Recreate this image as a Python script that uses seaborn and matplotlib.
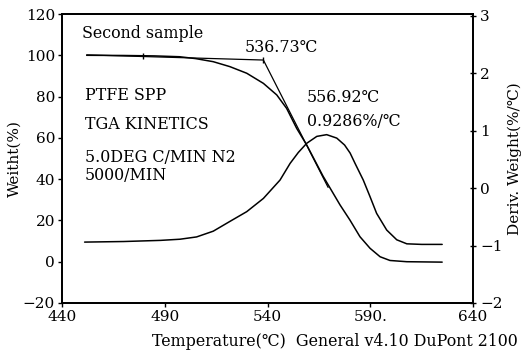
import matplotlib
matplotlib.use("Agg")
import matplotlib.pyplot as plt
import seaborn as sns
import pandas as pd

# Weight curve (left axis)
temp_w = [452, 470, 485, 497.2, 505, 513.6, 521.7, 529.9, 538, 544.5, 549.3, 554.2, 559.1, 567,
          575.3, 580.1, 585, 589.9, 594.8, 599.6, 607.8, 625]
weight = [100.0, 99.9, 99.7, 99.3, 98.4, 96.9, 94.5, 91.3, 86.4, 80.8, 74.3, 64.6, 56.5, 41.5,
          27.5, 20.2, 12.1, 6.5, 2.4, 0.6, 0.0, -0.2]

# Derivative curve (right axis)
temp_d = [451, 470, 488, 497.4, 505.5, 513.6, 521.7, 529.9, 538, 546.1, 551, 555, 559.1, 564,
          568.8, 573.7, 577.5, 580.2, 582.6, 586.6, 589.9, 593.1, 598, 602.9, 607.8, 615, 625]
deriv = [-0.94, -0.93, -0.91, -0.89, -0.85, -0.75, -0.58, -0.41, -0.18, 0.14, 0.43, 0.62, 0.78, 0.90,
         0.93, 0.87, 0.75, 0.61, 0.43, 0.14, -0.15, -0.44, -0.73, -0.90, -0.97, -0.98, -0.98]

# Onset tangent construction
tangent_t = [452, 538, 569.5]
tangent_w = [100.2, 97.7, 36.0]
marker_t = [479.4, 538]
marker_w = [99.6, 97.7]

x_ticks = [440, 490, 540, 590, 640]
x_labels = ["440", "490", "540", "590.", "640"]
left_ticks = [-20, 0, 20, 40, 60, 80, 100, 120]
right_ticks = [-2, -1, 0, 1, 2, 3]

sns.set_theme(style="ticks")
plt.rcParams["font.family"] = ["DejaVu Serif", "Noto Sans CJK SC"]
plt.rcParams["axes.unicode_minus"] = True
for k in ["text.color", "axes.labelcolor", "xtick.color", "ytick.color", "axes.edgecolor"]:
    plt.rcParams[k] = "black"

fig = plt.figure(figsize=(5.24, 3.53), dpi=100)
ax = fig.add_axes([62 / 524, 1 - 303 / 353, 411 / 524, 289 / 353])
ax2 = ax.twinx()

df_w = pd.DataFrame({"T": temp_w, "W": weight})
df_d = pd.DataFrame({"T": temp_d, "D": deriv})
df_t = pd.DataFrame({"T": tangent_t, "W": tangent_w})

sns.lineplot(data=df_w, x="T", y="W", ax=ax, color="black", lw=1.1, sort=True)
sns.lineplot(data=df_t, x="T", y="W", ax=ax, color="black", lw=0.9, sort=False)
ax.plot(marker_t, marker_w, ls="none", marker="|", ms=5, mew=1.0, color="black")
sns.lineplot(data=df_d, x="T", y="D", ax=ax2, color="black", lw=1.1, sort=True)

ax.set_xlim(440, 640)
ax.set_ylim(-20, 120)
ax2.set_ylim(-2, 3.03)

ax.set_xticks(x_ticks)
ax.set_xticklabels(x_labels)
ax.set_yticks(left_ticks)
ax2.set_yticks(right_ticks)

fs = 11
fs_t = 11.4
for a in (ax, ax2):
    for s in a.spines.values():
        s.set_visible(True)
        s.set_linewidth(1.3)
        s.set_color("black")
ax.tick_params(axis="both", labelsize=fs, length=3, width=1, color="black", labelcolor="black", pad=2)
ax2.tick_params(axis="y", labelsize=fs, length=4, width=1, direction="inout", color="black",
                labelcolor="black", pad=3)

ax.set_xlabel("")
ax.set_ylabel("Weitht(%)", fontsize=fs, labelpad=1, color="black")
ax2.set_ylabel("Deriv. Weight(%/℃)", fontsize=fs, labelpad=4, color="black")

def px(x, y):
    return (x / 524, 1 - y / 353)

kw = dict(fontsize=fs_t, va="center", ha="left", color="black")
fig.text(*px(82, 34), "Second sample", **kw)
fig.text(*px(245, 47), "536.73℃", **kw)
fig.text(*px(307, 98), "556.92℃", **kw)
fig.text(*px(307, 122), "0.9286%/℃", **kw)
fig.text(*px(85, 95), "PTFE SPP", **kw)
fig.text(*px(85, 125), "TGA KINETICS", **kw)
fig.text(*px(85, 158), "5.0DEG C/MIN N2", **kw)
fig.text(*px(85, 176), "5000/MIN", **kw)
fig.text(*px(152, 341), "Temperature(℃)  General v4.10 DuPont 2100", **kw)

fig.savefig("out.png", dpi=100)
